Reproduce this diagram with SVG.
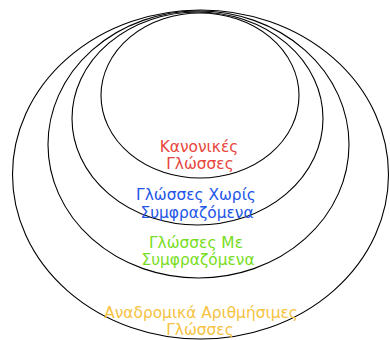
<svg xmlns="http://www.w3.org/2000/svg" width="390" height="340" viewBox="0 0 390 340">
<style>
.set{fill:none;stroke:#000;stroke-width:1.1}
text{font-family:"DejaVu Sans","Noto Sans",sans-serif;font-size:15.4px;text-anchor:middle}
.re{fill:#e8453c}.cf{fill:#2255e8}.cs{fill:#77dd22}.rec{fill:#f5c242}
</style>
<rect width="390" height="340" fill="#fff"/>
<g id="recursively-enumerable">
<ellipse class="set" cx="200.5" cy="174.5" rx="188" ry="164.5"/>
</g>
<g id="context-sensitive">
<ellipse class="set" cx="198.5" cy="144.5" rx="150.5" ry="133.5"/>
</g>
<g id="context-free">
<ellipse class="set" cx="197.5" cy="118.5" rx="125.5" ry="106.5"/>
</g>
<g id="regular">
<ellipse class="set" cx="200" cy="95.5" rx="99" ry="82.5"/>
</g>
<g id="labels">
<text class="re" x="199" y="152">Κανονικές</text>
<text class="re" x="200" y="169">Γλώσσες</text>
<text class="cf" x="196" y="200">Γλώσσες Χωρίς</text>
<text class="cf" x="197" y="218">Συμφραζόμενα</text>
<text class="cs" x="196" y="248">Γλώσσες Με</text>
<text class="cs" x="198" y="265">Συμφραζόμενα</text>
<text class="rec" x="201" y="318">Αναδρομικά Αριθμήσιμες</text>
<text class="rec" x="200" y="335">Γλώσσες</text>
</g>
</svg>
